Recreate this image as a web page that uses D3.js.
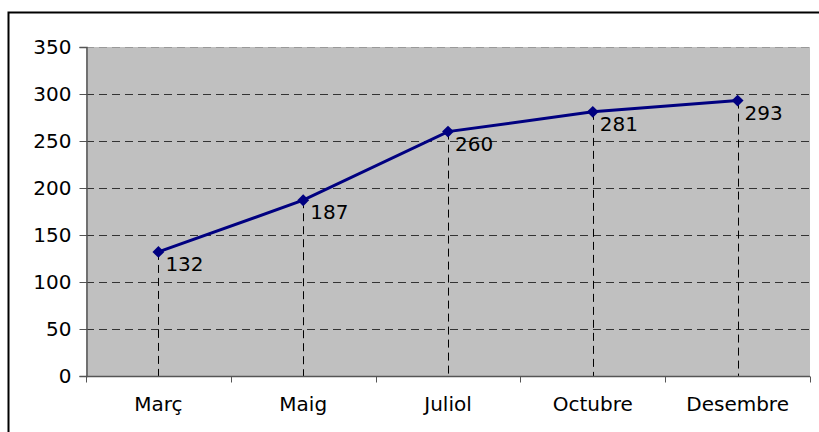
<!DOCTYPE html>
<html>
<head>
<meta charset="utf-8">
<title>Març - Desembre</title>
<script src="https://cdnjs.cloudflare.com/ajax/libs/d3/7.8.5/d3.min.js"></script>
<style>
  body { margin: 0; background: #fff; }
  svg { display: block; font-family: "DejaVu Sans", Verdana, sans-serif; }
</style>
</head>
<body>
<script>
  var months = ['Març', 'Maig', 'Juliol', 'Octubre', 'Desembre'];
  var values = [132, 187, 260, 281, 293];
  var yTicks = [0, 50, 100, 150, 200, 250, 300, 350];

  var w = 819, h = 432;
  var plot = { left: 86, top: 47, right: 810, bottom: 376 };
  var fontSize = '20px';

  var svg = d3.select('body').append('svg')
      .attr('width', w)
      .attr('height', h);

  // outer chart border (right/bottom edges run off the picture)
  svg.append('rect')
     .attr('x', 8.5).attr('y', 12.5)
     .attr('width', w).attr('height', h)
     .attr('fill', '#fff')
     .attr('stroke', '#000')
     .attr('stroke-width', 2);

  var x = d3.scaleBand()
      .domain(months)
      .range([plot.left, plot.right]);

  var y = d3.scaleLinear()
      .domain([0, 350])
      .range([plot.bottom, plot.top]);

  // gray plot area
  svg.append('rect')
     .attr('x', plot.left).attr('y', plot.top)
     .attr('width', plot.right - plot.left)
     .attr('height', plot.bottom - plot.top)
     .attr('fill', '#c0c0c0');

  // horizontal dashed gridlines
  svg.selectAll('.grid')
     .data(yTicks.filter(function(d) { return d > 0; }))
     .enter().append('line')
       .attr('class', 'grid')
       .attr('x1', plot.left).attr('x2', plot.right)
       .attr('y1', function(d) { return Math.round(y(d)) + 0.5; })
       .attr('y2', function(d) { return Math.round(y(d)) + 0.5; })
       .attr('stroke', function(d) { return d === 350 ? '#999' : '#333'; })
       .attr('stroke-dasharray', '8,5');

  // drop lines from points to the axis
  svg.selectAll('.drop')
     .data(values)
     .enter().append('line')
       .attr('class', 'drop')
       .attr('x1', function(d, i) { return Math.round(x(months[i]) + x.bandwidth() / 2) + 0.5; })
       .attr('x2', function(d, i) { return Math.round(x(months[i]) + x.bandwidth() / 2) + 0.5; })
       .attr('y1', function(d) { return y(d); })
       .attr('y2', plot.bottom)
       .attr('stroke', '#000')
       .attr('stroke-dasharray', '8,5');

  // y axis
  var yAxis = svg.append('g')
      .attr('transform', 'translate(' + (plot.left + 0.5) + ',0)')
      .call(d3.axisLeft(y).tickValues(yTicks).tickSize(7).tickPadding(8));

  // x axis, ticks at band boundaries
  var xAxis = svg.append('g')
      .attr('transform', 'translate(0,' + (plot.bottom + 0.5) + ')')
      .call(d3.axisBottom(x).tickSize(0).tickPadding(20));

  var bounds = months.map(function(m) { return x(m); }).concat([plot.right]);
  xAxis.selectAll('.bound')
     .data(bounds)
     .enter().append('line')
       .attr('class', 'bound')
       .attr('x1', function(d) { return Math.round(d) + 0.5; })
       .attr('x2', function(d) { return Math.round(d) + 0.5; })
       .attr('y1', 0).attr('y2', 6)
       .attr('stroke', '#555');

  [yAxis, xAxis].forEach(function(g) {
    g.attr('font-family', '"DejaVu Sans", Verdana, sans-serif').attr('font-size', fontSize);
    g.select('.domain').attr('stroke', '#555').attr('stroke-width', 1.5);
    g.selectAll('.tick line').attr('stroke', '#555');
    g.selectAll('.tick text').attr('fill', '#000');
  });
  xAxis.select('.domain').attr('d', 'M' + plot.left + ',0H' + plot.right);

  // series line
  var line = d3.line()
      .x(function(d, i) { return x(months[i]) + x.bandwidth() / 2; })
      .y(function(d) { return y(d); });

  svg.append('path')
     .datum(values)
     .attr('d', line)
     .attr('fill', 'none')
     .attr('stroke', '#000080')
     .attr('stroke-width', 3);

  // diamond markers
  svg.selectAll('.marker')
     .data(values)
     .enter().append('path')
       .attr('class', 'marker')
       .attr('d', d3.symbol().type(d3.symbolDiamond2).size(90))
       .attr('transform', function(d, i) {
         return 'translate(' + (x(months[i]) + x.bandwidth() / 2) + ',' + y(d) + ')';
       })
       .attr('fill', '#000080');

  // value labels
  svg.selectAll('.label')
     .data(values)
     .enter().append('text')
       .attr('class', 'label')
       .attr('x', function(d, i) { return x(months[i]) + x.bandwidth() / 2 + 7; })
       .attr('y', function(d) { return y(d) + 19; })
       .attr('font-size', fontSize)
       .attr('fill', '#000')
       .text(function(d) { return d; });
</script>
</body>
</html>
